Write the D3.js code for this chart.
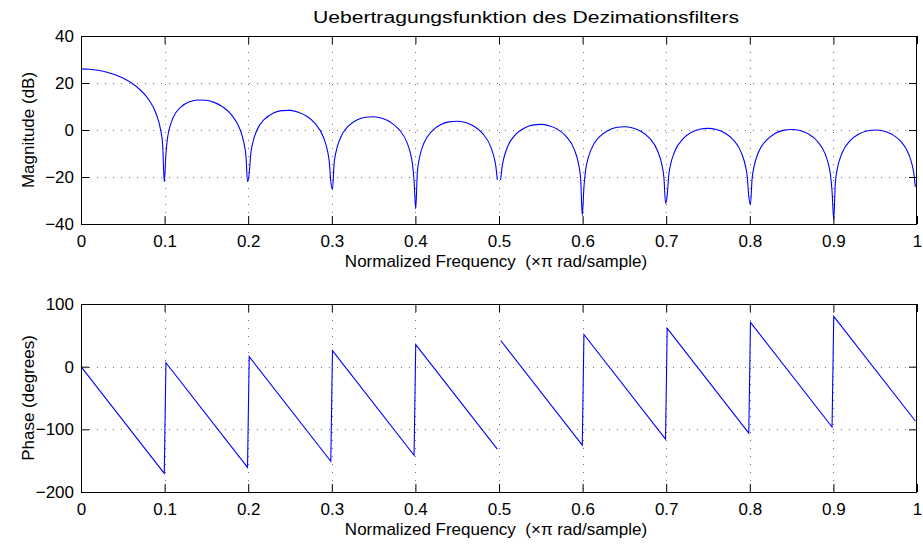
<!DOCTYPE html>
<html>
<head>
<meta charset="utf-8">
<script src="https://cdn.jsdelivr.net/npm/d3@7"></script>
<style>
html,body{margin:0;padding:0;background:#fff;}
svg{display:block;}
text{font-family:"Liberation Sans",Arial,Helvetica,sans-serif;fill:#000;}
</style>
</head>
<body>
<svg id="chart" width="923" height="544"></svg>
<script>
// ---------- data ----------
const titleText = "Uebertragungsfunktion des Dezimationsfilters";
const xLabelText = "Normalized Frequency  (\u00d7\u03c0 rad/sample)";
const magLabelText = "Magnitude (dB)";
const phaseLabelText = "Phase (degrees)";

const xTicks = [0, 0.1, 0.2, 0.3, 0.4, 0.5, 0.6, 0.7, 0.8, 0.9, 1];
const xTickLabels = ["0", "0.1", "0.2", "0.3", "0.4", "0.5", "0.6", "0.7", "0.8", "0.9", "1"];
const magTicks = [-40, -20, 0, 20, 40];
const magTickLabels = ["\u221240", "\u221220", "0", "20", "40"];
const phaseTicks = [-200, -100, 0, 100];
const phaseTickLabels = ["\u2212200", "\u2212100", "0", "100"];

// magnitude response (normalized frequency, dB); null = gap
const magFreq = [
  0, 0.01, 0.02, 0.03, 0.04, 0.05, 0.06, 0.07, 0.08, 0.09, 0.095, 0.0977, 0.0996, 0.1016, 0.1035, 0.105,
  0.11, 0.12, 0.13, 0.14, 0.15, 0.16, 0.17, 0.18, 0.19, 0.195, 0.1973, 0.1992, 0.2012, 0.2031, 0.205,
  0.21, 0.22, 0.23, 0.24, 0.25, 0.26, 0.27, 0.28, 0.29, 0.295, 0.2969, 0.2988, 0.3008, 0.3027, 0.305,
  0.31, 0.32, 0.33, 0.34, 0.35, 0.36, 0.37, 0.38, 0.39, 0.395, 0.3965, 0.3984, 0.4004, 0.4023, 0.405,
  0.41, 0.42, 0.43, 0.44, 0.45, 0.46, 0.47, 0.48, 0.49, 0.495, 0.4961, 0.498, 0.5, 0.502, 0.5039, 0.505,
  0.51, 0.52, 0.53, 0.54, 0.55, 0.56, 0.57, 0.58, 0.59, 0.595, 0.5977, 0.5996, 0.6016, 0.6035, 0.605,
  0.61, 0.62, 0.63, 0.64, 0.65, 0.66, 0.67, 0.68, 0.69, 0.695, 0.6973, 0.6992, 0.7012, 0.7031, 0.705,
  0.71, 0.72, 0.73, 0.74, 0.75, 0.76, 0.77, 0.78, 0.79, 0.795, 0.7969, 0.7988, 0.8008, 0.8027, 0.805,
  0.81, 0.82, 0.83, 0.84, 0.85, 0.86, 0.87, 0.88, 0.89, 0.895, 0.8965, 0.8984, 0.9004, 0.9023, 0.905,
  0.91, 0.92, 0.93, 0.94, 0.95, 0.96, 0.97, 0.98, 0.99, 0.9941, 0.9961, 0.998
];
const magDb = [
  26.02, 25.88, 25.44, 24.70, 23.60, 22.11, 20.09, 17.35, 13.42, 6.82, 0.44, -6.36, -22.05, -10.20, -3.33, -0.41,
  5.09, 9.93, 12.02, 12.79, 12.64, 11.65, 9.73, 6.47, 0.43, -5.70, -11.0, -21.96, -18.53, -10.12, -6.12,
  -0.41, 4.78, 7.19, 8.24, 8.34, 7.58, 5.87, 2.80, -3.07, -9.11, -13.24, -21.79, -25.36, -14.54, -9.38,
  -3.60, 1.72, 4.26, 5.42, 5.64, 4.98, 3.37, 0.38, -5.39, -11.40, -14.47, -21.53, -33.59, -18.09, -11.59,
  -5.77, -0.37, 2.24, 3.47, 3.75, 3.15, 1.60, -1.33, -7.05, -13.03, -15.17, -21.21, null, -21.26, -15.28, -13.17,
  -7.32, -1.87, 0.78, 2.06, 2.38, 1.82, 0.31, -2.57, -8.26, -14.22, -20.80, -36.36, -24.36, -17.36, -14.32,
  -8.46, -2.97, -0.28, 1.03, 1.38, 0.86, -0.62, -3.47, -9.13, -15.08, -20.31, -31.2, -27.69, -19.20, -15.15,
  -9.27, -3.75, -1.04, 0.31, 0.69, 0.19, -1.26, -4.09, -9.72, -15.65, -19.73, -28.23, -31.76, -20.90, -15.70,
  -9.81, -4.27, -1.53, -0.16, 0.24, -0.23, -1.66, -4.46, -10.07, -15.99, -19.04, -26.07, -38.09, -22.57, -16.01,
  -10.11, -4.55, -1.79, -0.40, 0.03, -0.42, -1.83, -4.61, -10.20, -14.75, -18.24, -24.25
];

// phase response (normalized frequency, degrees); null = gap
const phaseFreq = [0, 0.0996, 0.1016, 0.1992, 0.2012, 0.2988, 0.3008, 0.3984, 0.4004, 0.498, 0.5,
  0.502, 0.5996, 0.6016, 0.6992, 0.7012, 0.7988, 0.8008, 0.8984, 0.9004, 0.998];
const phaseDeg = [0, -170.3, 6.3, -160.7, 16.0, -151.0, 25.7, -141.3, 35.3, -131.7, null,
  41.7, -125.3, 51.3, -115.7, 61.0, -106.0, 70.7, -96.3, 80.3, -86.7];

// ---------- layout ----------
const svg = d3.select("#chart");
const L = 81, R = 917;
const panels = [
  {top: 36, bottom: 224, domain: [-40, 40], ticks: magTicks, labels: magTickLabels,
   ylabel: magLabelText, xs: magFreq, ys: magDb, curve: d3.curveMonotoneX},
  {top: 304, bottom: 492, domain: [-200, 100], ticks: phaseTicks, labels: phaseTickLabels,
   ylabel: phaseLabelText, xs: phaseFreq, ys: phaseDeg, curve: d3.curveLinear}
];

const x = d3.scaleLinear().domain([0, 1]).range([L, R]);
const FS = 17;

svg.append("text")
  .attr("x", 313).attr("y", 22.5)
  .attr("text-anchor", "start")
  .attr("textLength", 426)
  .attr("lengthAdjust", "spacingAndGlyphs")
  .style("font-size", "16px")
  .text(titleText);

panels.forEach(p => {
  const y = d3.scaleLinear().domain(p.domain).range([p.bottom, p.top]);
  const g = svg.append("g");

  // grid
  const grid = g.append("g").attr("stroke", "#000").attr("stroke-opacity", 0.55)
    .attr("stroke-width", 1).attr("stroke-dasharray", "1,7");
  xTicks.filter(v => v > 0 && v < 1).forEach(v => {
    const px = Math.round(x(v)) + 0.5;
    grid.append("line").attr("x1", px).attr("x2", px).attr("y1", p.top).attr("y2", p.bottom);
  });
  p.ticks.filter(v => v > p.domain[0] && v < p.domain[1]).forEach(v => {
    const py = Math.round(y(v)) + 0.5;
    grid.append("line").attr("x1", L).attr("x2", R).attr("y1", py).attr("y2", py);
  });

  // data line
  const data = p.xs.map((f, i) => ({f: f, v: p.ys[i]}));
  const line = d3.line()
    .defined(d => d.v !== null)
    .x(d => x(d.f)).y(d => y(d.v))
    .curve(p.curve);
  g.append("path").datum(data)
    .attr("fill", "none").attr("stroke", "#0000ff").attr("stroke-width", 1.1)
    .attr("d", line);

  // axes
  const xb = d3.axisBottom(x).tickValues(xTicks).tickFormat((d, i) => xTickLabels[i])
    .tickSize(-8).tickPadding(10.5);
  const xt = d3.axisTop(x).tickValues(xTicks).tickFormat("").tickSize(-8);
  const yl = d3.axisLeft(y).tickValues(p.ticks).tickFormat((d, i) => p.labels[i])
    .tickSize(-8).tickPadding(7);
  const yr = d3.axisRight(y).tickValues(p.ticks).tickFormat("").tickSize(-8);

  const style = sel => {
    sel.select(".domain").remove();
    sel.selectAll("line").attr("stroke", "#000");
    sel.selectAll("text").style("font-size", FS + "px").attr("fill", "#000")
      .style("font-family", '"Liberation Sans",Arial,sans-serif');
  };
  g.append("g").attr("transform", `translate(0,${p.bottom})`).call(xb).call(style);
  g.append("g").attr("transform", `translate(0,${p.top})`).call(xt).call(style);
  g.append("g").attr("transform", `translate(${L},0)`).call(yl).call(style);
  g.append("g").attr("transform", `translate(${R},0)`).call(yr).call(style);

  g.append("rect")
    .attr("x", L + 0.5).attr("y", p.top + 0.5)
    .attr("width", R - L - 1).attr("height", p.bottom - p.top)
    .attr("fill", "none").attr("stroke", "#000").attr("stroke-width", 1);

  // labels
  svg.append("text")
    .attr("x", (L + R) / 2 - 3).attr("y", p.bottom + 43)
    .attr("text-anchor", "middle").style("font-size", FS + "px")
    .style("white-space", "pre").attr("xml:space", "preserve")
    .text(xLabelText);
  svg.append("text")
    .attr("transform", `translate(34,${(p.top + p.bottom) / 2}) rotate(-90)`)
    .attr("text-anchor", "middle").style("font-size", FS + "px")
    .text(p.ylabel);
});
</script>
</body>
</html>
